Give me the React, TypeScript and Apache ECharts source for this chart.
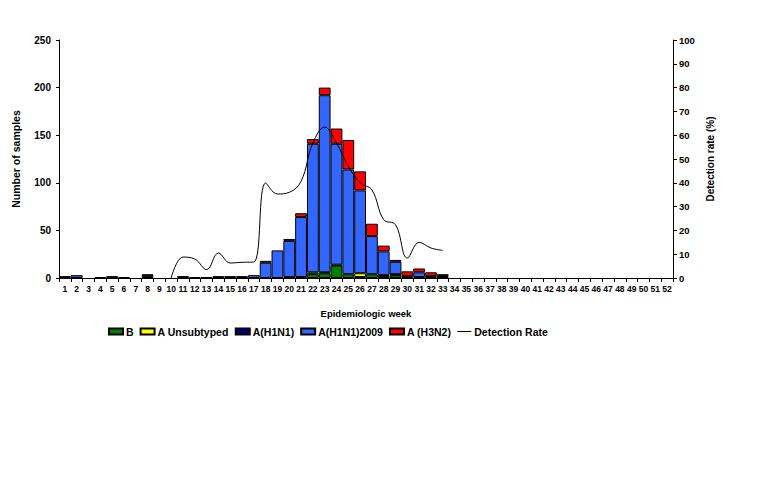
import React, { useEffect, useRef } from "react";
import * as echarts from "echarts";

const weeks: string[] = Array.from({ length: 52 }, (_, i) => String(i + 1));

// values per week (index 0 = week 1)
const bValues: number[] = [0,0,0,0,0,0,0,2,0,0,0,0,0,0,0,0,0,0,0,0,0,4,5,13,4,1,4,2,3,0,1,0,1,0,0,0,0,0,0,0,0,0,0,0,0,0,0,0,0,0,0,0];
const unsubValues: number[] = [0,0,0,0,0,0,0,0,0,0,0,0,0,0,0,0,0,0,0,0,0,2,0,0,0,4,0,0,1,0,0,0,0,0,0,0,0,0,0,0,0,0,0,0,0,0,0,0,0,0,0,0];
const h1n1Values: number[] = [2,0,0,1,0,1,0,0,0,0,2,1,1,0,2,0,0,0,0,1,1,0,1,1,0,0,0,1,0,0,0,1,0,0,0,0,0,0,0,0,0,0,0,0,0,0,0,0,0,0,0,0];
const pdmValues: number[] = [0,3,0,0,2,0,0,2,0,0,0,0,0,2,0,2,3,16,29,38,63,135,186,127,110,87,40,25,13,2,5,1,1,0,0,0,0,0,0,0,0,0,0,0,0,0,0,0,0,0,0,0];
const h3n2Values: number[] = [0,0,0,0,0,0,0,0,0,0,0,0,0,0,0,0,0,2,0,2,4,5,8,16,31,20,13,6,2,5,4,4,2,0,0,0,0,0,0,0,0,0,0,0,0,0,0,0,0,0,0,0];
const rateValues: (number | null)[] = [null,null,null,null,null,null,null,null,null,0,8.8,8,3.5,10.5,6.3,6.6,6.7,39.9,35.3,36,40.6,56.7,63.4,56.7,47,40,37,24.5,22.4,8.4,15,12.6,11.6,null,null,null,null,null,null,null,null,null,null,null,null,null,null,null,null,null,null,null];

const leftTicks = [0, 50, 100, 150, 200, 250];
const rightTicks = [0, 10, 20, 30, 40, 50, 60, 70, 80, 90, 100];

const FONT = "Liberation Sans";

export default function App() {
  const ref = useRef<HTMLDivElement>(null);
  useEffect(() => {
    if (!ref.current) return;
    const chart = echarts.init(ref.current, null, { renderer: "svg" });
    const barSeries = (name: string, data: number[], color: string) => ({
      name,
      type: "bar",
      stack: "total",
      data: data.map((v) => (v === 0 ? null : v)),
      barCategoryGap: "0%",
      itemStyle: { color, borderColor: "#000", borderWidth: 1 },
      yAxisIndex: 0,
    });
    chart.setOption({
      animation: false,
      backgroundColor: "#fff",
      textStyle: { fontFamily: FONT },
      grid: { left: 59, width: 614, top: 40, height: 238 },
      legend: {
        left: 103,
        top: 321,
        icon: "rect",
        itemWidth: 14,
        itemHeight: 6,
        itemGap: 6,
        textStyle: { fontFamily: FONT, fontWeight: "bold", fontSize: 10.5, color: "#000", padding: [0, 0, 0, -2] },
        data: [
          "B",
          "A Unsubtyped",
          "A(H1N1)",
          "A(H1N1)2009",
          "A (H3N2)",
          {
            name: "Detection Rate",
            icon: "path://M0,0h14v1h-14z",
            itemStyle: { color: "#000", borderWidth: 0 },
          },
        ],
      },
      xAxis: {
        type: "category",
        data: weeks,
        boundaryGap: true,
        name: "Epidemiologic week",
        nameLocation: "middle",
        nameGap: 30,
        nameTextStyle: { fontFamily: FONT, fontWeight: "bold", fontSize: 9.5, color: "#000" },
        axisLine: { lineStyle: { color: "#000", width: 1 } },
        axisTick: { show: true, length: 4, lineStyle: { color: "#000" }, alignWithLabel: false },
        axisLabel: { interval: 0, fontFamily: FONT, fontWeight: "bold", fontSize: 8.5, color: "#000", margin: 6 },
        splitLine: { show: false },
      },
      yAxis: [
        {
          type: "value",
          min: 0,
          max: 250,
          interval: 50,
          name: "Number of samples",
          nameLocation: "middle",
          nameRotate: 90,
          nameGap: 38,
          nameTextStyle: { fontFamily: FONT, fontWeight: "bold", fontSize: 10.5, color: "#000" },
          axisLine: { show: true, lineStyle: { color: "#000", width: 1 } },
          axisTick: { show: true, length: 3, lineStyle: { color: "#000" } },
          axisLabel: {
            fontFamily: FONT, fontWeight: "bold", fontSize: 10, color: "#000", margin: 8,
            formatter: (v: number) => (leftTicks.includes(v) ? String(v) : ""),
          },
          splitLine: { show: false },
        },
        {
          type: "value",
          min: 0,
          max: 100,
          interval: 10,
          position: "right",
          name: "Detection rate (%)",
          nameLocation: "middle",
          nameRotate: 90,
          nameGap: 28,
          nameTextStyle: { fontFamily: FONT, fontWeight: "bold", fontSize: 10, color: "#000" },
          axisLine: { show: true, lineStyle: { color: "#000", width: 1 } },
          axisTick: { show: true, length: 4, lineStyle: { color: "#000" } },
          axisLabel: {
            fontFamily: FONT, fontWeight: "bold", fontSize: 9.5, color: "#000", margin: 6,
            formatter: (v: number) => (rightTicks.includes(v) ? String(v) : ""),
          },
          splitLine: { show: false },
        },
      ],
      series: [
        barSeries("B", bValues, "#008000"),
        barSeries("A Unsubtyped", unsubValues, "#FFFF00"),
        barSeries("A(H1N1)", h1n1Values, "#000080"),
        barSeries("A(H1N1)2009", pdmValues, "#3366FF"),
        barSeries("A (H3N2)", h3n2Values, "#FF0000"),
        {
          name: "Detection Rate",
          type: "line",
          yAxisIndex: 1,
          data: rateValues,
          smooth: 0.4,
          symbol: "none",
          showSymbol: false,
          connectNulls: false,
          lineStyle: { color: "#000", width: 1 },
          itemStyle: { color: "#000" },
          z: 5,
        },
      ],
    });
    return () => chart.dispose();
  }, []);
  return (
    <div
      ref={ref}
      style={{ position: "absolute", left: 0, top: 0, width: 768, height: 480, background: "#fff" }}
    />
  );
}
